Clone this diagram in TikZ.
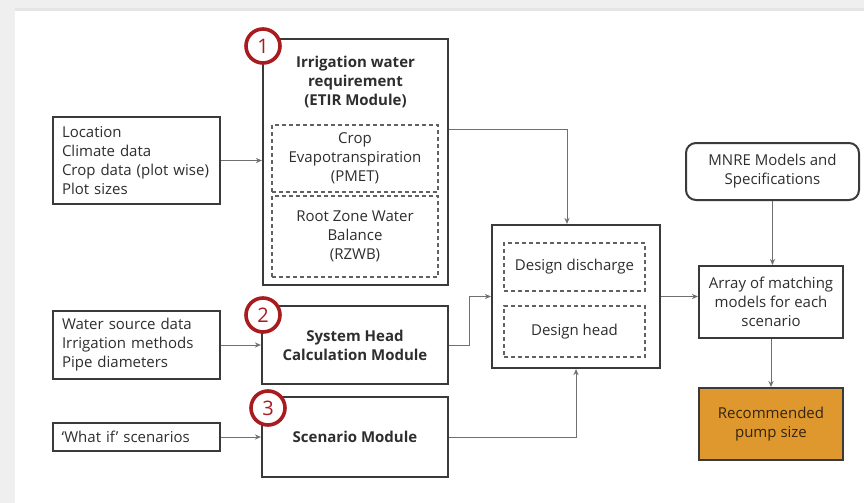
\documentclass[tikz,border=0pt]{standalone}
\usepackage{fontspec}
\setmainfont{Open Sans}
\usepackage{xcolor}
\usetikzlibrary{positioning, arrows.meta, calc}
\definecolor{boxLine}{HTML}{3A3A3A}
\definecolor{bodyText}{HTML}{2E2E2E}
\definecolor{linkGray}{HTML}{707070}
\definecolor{badgeRed}{HTML}{A81C20}
\definecolor{pumpOrange}{HTML}{DF982E}
\definecolor{pumpText}{HTML}{33250F}
\definecolor{pageGray}{HTML}{EFEFEF}

\begin{document}
\begin{tikzpicture}[x=0.5pt, y=-0.5pt,
  every node/.style={font=\fontsize{7.5}{9.5}\selectfont, text=bodyText},
  inbox/.style={rectangle, draw=boxLine, line width=1pt, align=left,
              text width=74.5pt, inner xsep=4.5pt, inner ysep=0pt, minimum width=83.5pt},
  modbox/.style={rectangle, draw=boxLine, line width=1.1pt, align=center,
              minimum width=93pt, minimum height=39pt, inner sep=0pt,
              font=\fontsize{7.5}{9.5}\selectfont\bfseries},
  subbox/.style={rectangle, draw=boxLine!80, line width=0.6pt, dashed,
              dash pattern=on 2pt off 1.5pt, align=center,
              minimum width=83pt, inner sep=0pt},
  outbox/.style={rectangle, draw=boxLine, line width=1pt, align=center,
              minimum width=72pt, minimum height=36pt, inner sep=0pt},
  badge/.style={circle, draw=badgeRed, line width=1.8pt, fill=white,
              minimum size=17pt, inner sep=0pt,
              font=\fontsize{10}{10}\selectfont, text=badgeRed},
  link/.style={->, >={Stealth[length=3pt, width=2.6pt]}, linkGray, line width=0.5pt},
]
  \useasboundingbox (0,0) rectangle (864,503);
  \fill[pageGray] (0,0) rectangle (864,503);
  \fill[black!10] (15,8) rectangle (864,11);
  \fill[white] (15,11) rectangle (864,503);

  % inputs
  \node[inbox, minimum height=43.5pt] at (136.5,160.5) (locin)
        {Location\\Climate data\\Crop data (plot wise)\\Plot sizes};
  \node[inbox, minimum height=34pt] at (136.5,345) (waterin)
        {Water source data\\Irrigation methods\\Pipe diameters};
  \node[inbox, minimum height=14pt] at (136,437) (whatif)
        {`What if' scenarios};

  % modules
  \node[modbox, minimum width=92.5pt, minimum height=123pt] at (355.5,162) (etir) {};
  \node[font=\fontsize{7.5}{9.5}\selectfont\bfseries, align=center] at (355.5,82) (etirtitle)
        {Irrigation water\\requirement\\(ETIR Module)};
  \node[subbox, minimum height=33.5pt] at (355,158.5) (pmet)
        {Crop\\Evapotranspiration\\(PMET)};
  \node[subbox, minimum height=40.5pt] at (355,236.5) (rzwb)
        {Root Zone Water\\Balance\\(RZWB)};
  \node[modbox] at (355,345) (syshead) {System Head\\Calculation Module};
  \node[modbox, minimum height=40pt] at (355,437) (scenario) {Scenario Module};

  % design block
  \node[modbox, minimum width=84pt, minimum height=71.5pt] at (576,296.5) (design) {};
  \node[subbox, minimum width=70.5pt, minimum height=24pt] at (574.5,267) (discharge)
        {Design discharge};
  \node[subbox, minimum width=70.5pt, minimum height=25.5pt] at (574.5,331.5) (head)
        {Design head};

  % pump selection
  \node[outbox, minimum width=86.5pt, minimum height=28.5pt, rounded corners=5pt]
        at (772.5,171.5) (mnre) {MNRE Models and\\Specifications};
  \node[outbox] at (771,302) (array) {Array of matching\\models for each\\scenario};
  \node[outbox, fill=pumpOrange, text=pumpText] at (771,424) (pump)
        {Recommended\\pump size};

  \node[badge] at (263,46) (b1) {1};
  \node[badge] at (263,315) (b2) {2};
  \node[badge] at (268,408) (b3) {3};

  \draw[link] (locin.east) -- (etir.west |- locin.east);
  \draw[link] (waterin) -- (syshead);
  \draw[link] (whatif) -- (scenario);
  \draw[link] (etir.east |- 0,129) -| (design.north -| 567,0);
  \draw[link] (syshead.east) -- ++(20,0) |- (design.west);
  \draw[link] (scenario.east) -| (design.south);
  \draw[link] (design.east) -- (array.west |- design.east);
  \draw[link] (mnre.south) -- (mnre.south |- array.north);
  \draw[link] (array) -- (pump);
\end{tikzpicture}
\end{document}
